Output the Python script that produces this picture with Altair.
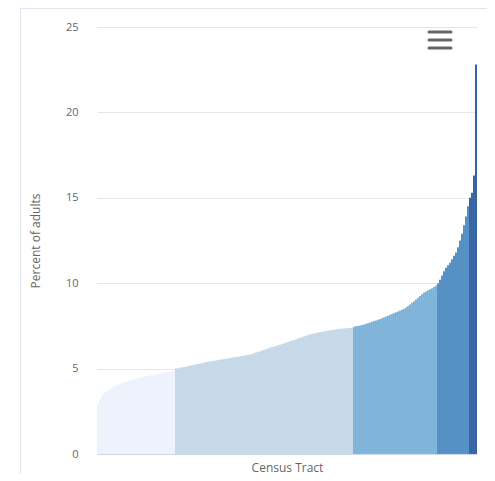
import altair as alt
import pandas as pd

# Sorted percent of adults per census tract, grouped by colour class
class1 = [2.9, 3.2, 3.4, 3.55, 3.65, 3.75, 3.8, 3.9, 3.95, 4.0, 4.05, 4.1, 4.15,
          4.2, 4.22, 4.25, 4.3, 4.33, 4.36, 4.4, 4.43, 4.46, 4.5, 4.52, 4.55, 4.58,
          4.6, 4.62, 4.65, 4.67, 4.7, 4.72, 4.74, 4.76, 4.78, 4.8, 4.82, 4.85, 4.88]
class2 = [5.0, 5.02, 5.05, 5.08, 5.1, 5.12, 5.15, 5.18, 5.2, 5.22, 5.25, 5.27, 5.3,
          5.32, 5.35, 5.37, 5.4, 5.42, 5.44, 5.46, 5.48, 5.5, 5.52, 5.54, 5.56, 5.58, 5.6,
          5.62, 5.64, 5.66, 5.68, 5.7, 5.72, 5.74, 5.76, 5.78, 5.8, 5.83, 5.86, 5.9, 5.94, 5.98,
          6.02, 6.06, 6.1, 6.14, 6.18, 6.22, 6.26, 6.3, 6.33, 6.36, 6.4, 6.44, 6.48, 6.52, 6.56,
          6.6, 6.64, 6.68, 6.72, 6.76, 6.8, 6.84, 6.88, 6.92, 6.96, 7.0, 7.03, 7.06, 7.09, 7.12,
          7.14, 7.16, 7.18, 7.2, 7.22, 7.24, 7.26, 7.28, 7.3, 7.32, 7.33, 7.34, 7.35, 7.36,
          7.37, 7.38, 7.39]
class3 = [7.45, 7.48, 7.5, 7.52, 7.55, 7.58, 7.62, 7.66, 7.7, 7.74, 7.78, 7.82, 7.86,
          7.9, 7.95, 8.0, 8.05, 8.1, 8.15, 8.2, 8.25, 8.3, 8.35, 8.4, 8.45, 8.5, 8.58,
          8.66, 8.75, 8.85, 8.95, 9.05, 9.15, 9.25, 9.35, 9.45, 9.52, 9.58, 9.64, 9.7,
          9.78, 9.86]
class4 = [10.0, 10.2, 10.45, 10.7, 10.9, 11.05, 11.2, 11.4, 11.6, 11.8, 12.1, 12.5,
          12.9, 13.4, 13.9, 14.5]
class5 = [15.0, 15.3, 16.3, 22.8]

class_names = ["c1", "c2", "c3", "c4", "c5"]
class_colors = ["#eef2fc", "#c4d8e9", "#78b0d9", "#4a8ac3", "#2c5ca4"]
y_ticks = [0, 5, 10, 15, 20, 25]

rows = []
idx = 0
for name, vals in zip(class_names, [class1, class2, class3, class4, class5]):
    for v in vals:
        rows.append({"tract": idx, "pct": v, "cls": name})
        idx += 1
df = pd.DataFrame(rows)

FONT = "Open Sans"

bars = alt.Chart(df).mark_bar(stroke="white", strokeWidth=0.3, strokeOpacity=0.3).encode(
    x=alt.X("tract:O",
            scale=alt.Scale(paddingInner=0, paddingOuter=0),
            axis=alt.Axis(labels=False, ticks=False, grid=False,
                          title="Census Tract", domainColor="#ccd6eb",
                          titlePadding=8)),
    y=alt.Y("pct:Q",
            scale=alt.Scale(domain=[0, 25], nice=False),
            axis=alt.Axis(values=y_ticks, title="Percent of adults",
                          domain=False, ticks=False, tickSize=0,
                          labelPadding=19, titlePadding=23,
                          gridColor="#e6e6e6")),
    color=alt.Color("cls:N", scale=alt.Scale(domain=class_names, range=class_colors),
                    legend=None),
)

one = pd.DataFrame({"a": [0]})
menu_lines = [
    alt.Chart(one).mark_rule(color="#666666", strokeWidth=3, strokeCap="round").encode(
        x=alt.value(332), x2=alt.value(354), y=alt.value(yy))
    for yy in (5, 13, 21)
]
border_top = alt.Chart(one).mark_rule(color="#dfe6ef", strokeWidth=1).encode(
    x=alt.value(-77), x2=alt.value(392), y=alt.value(-18.5))
border_left = alt.Chart(one).mark_rule(color="#dfe6ef", strokeWidth=1).encode(
    x=alt.value(-76.5), y=alt.value(-19), y2=alt.value(450))

chart = alt.layer(border_top, border_left, bars, *menu_lines).properties(
    width=380, height=427,
    autosize=alt.AutoSizeParams(type="none"),
    padding={"left": 89, "top": 19, "right": 10, "bottom": 20},
).configure_view(stroke=None).configure_axis(
    labelFont=FONT, titleFont=FONT, labelColor="#666666", titleColor="#666666",
    labelFontSize=11, titleFontSize=12, titleFontWeight="normal",
)

chart.save("out.html", embed_options={"renderer": "svg", "actions": False})
